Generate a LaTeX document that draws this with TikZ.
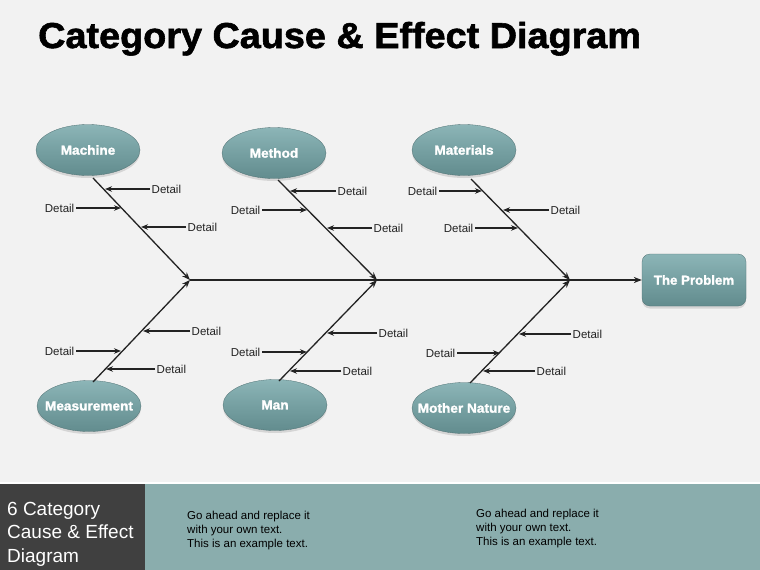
\documentclass[tikz,border=0pt]{standalone}
\usepackage{fontspec}
\setmainfont{Liberation Sans}
\newfontfamily\heavy{Liberation Sans Bold}[FakeBold=1.6]
\usetikzlibrary{arrows.meta,shapes.geometric,shadows}
\definecolor{bgc}{RGB}{242,242,242}
\definecolor{bandc}{RGB}{138,173,173}
\definecolor{darkc}{RGB}{64,64,64}
\definecolor{linec}{RGB}{35,35,35}
\definecolor{tealtop}{RGB}{140,181,183}
\definecolor{tealmid}{RGB}{118,160,162}
\definecolor{tealbot}{RGB}{98,140,142}
\newcommand{\wlab}[1]{\scalebox{1.05}[1]{#1}}
\begin{document}
\begin{tikzpicture}[x=1pt,y=-1pt,
  cat/.style={ellipse, minimum width=104pt, minimum height=51pt, inner xsep=-24pt, inner ysep=0pt,
    top color=tealtop, bottom color=tealbot, middle color=tealmid,
    draw=tealbot!80!black, line width=0.3pt,
    drop shadow={opacity=0.25, shadow xshift=0pt, shadow yshift=-2.5pt},
    text=white, font=\fontsize{13}{15}\selectfont\heavy},
  probbox/.style={rounded corners=8pt, minimum width=104pt, minimum height=52pt, inner sep=0pt,
    top color=tealtop, bottom color=tealbot, middle color=tealmid,
    draw=tealbot!80!black, line width=0.3pt,
    drop shadow={opacity=0.25, shadow xshift=0pt, shadow yshift=-2.5pt},
    text=white, font=\fontsize{13}{15}\selectfont\heavy},
  det/.style={inner sep=1.5pt, text=linec, font=\fontsize{11.5}{13}\selectfont},
  bone/.style={draw=linec, line width=1.3pt, -{Stealth[length=8pt,width=6pt]}},
  darr/.style={draw=linec, line width=1.2pt, -{Stealth[length=7pt,width=5.5pt]}},
  foot/.style={anchor=north west, align=left, text=black, inner sep=0pt,
    font=\fontsize{11.5}{14}\selectfont}
]
% backgrounds
\fill[bgc] (0,0) rectangle (760,482);
\fill[white] (0,482) rectangle (760,484);
\fill[bandc] (0,484) rectangle (760,570);
\fill[darkc] (0,484) rectangle (145,570);
\useasboundingbox (0,0) rectangle (760,570);

% title
\node[anchor=base west, inner sep=0pt] (title) at (38,48)
  {\fontsize{36}{40}\selectfont\heavy\scalebox{1.05}[1]{Category Cause \& Effect Diagram}};

% category ellipses
\node[cat] (mach) at (88,150) {\wlab{Machine}};
\node[cat] (meth) at (274,153) {\wlab{Method}};
\node[cat] (matl) at (464,150) {\wlab{Materials}};
\node[cat] (meas) at (89,406) {\wlab{Measurement}};
\node[cat] (man)  at (275,405) {\wlab{Man}};
\node[cat] (moth) at (464,408) {\wlab{Mother Nature}};

% problem
\node[probbox] (prob) at (694,280) {\scalebox{1.02}[1]{The Problem}};

% junctions and branch starts
\coordinate (j1) at (190,280);
\coordinate (j2) at (377,280);
\coordinate (j3) at (570,280);
\coordinate (b1) at (93,178);
\coordinate (b2) at (278,180);
\coordinate (b3) at (471,179);
\coordinate (b4) at (93,382);
\coordinate (b5) at (279,381);
\coordinate (b6) at (470,383);

% spine
\draw[bone] (j1) -- (prob.west);
% bones
\draw[bone] (b1) -- (j1);
\draw[bone] (b2) -- (j2);
\draw[bone] (b3) -- (j3);
\draw[bone] (b4) -- (j1);
\draw[bone] (b5) -- (j2);
\draw[bone] (b6) -- (j3);

% Machine details
\node[det, anchor=west] (d11) at (150,189) {Detail};
\node[det, anchor=east] (d12) at (76,208) {Detail};
\node[det, anchor=west] (d13) at (186,227) {Detail};
\coordinate (t11) at (105,189);
\coordinate (t12) at (121,208);
\coordinate (t13) at (141,227);
\draw[darr] (d11.west) -- (t11);
\draw[darr] (d12.east) -- (t12);
\draw[darr] (d13.west) -- (t13);

% Method details
\node[det, anchor=west] (d21) at (336,191) {Detail};
\node[det, anchor=east] (d22) at (262,210) {Detail};
\node[det, anchor=west] (d23) at (372,228) {Detail};
\coordinate (t21) at (290,191);
\coordinate (t22) at (307,210);
\coordinate (t23) at (327,228);
\draw[darr] (d21.west) -- (t21);
\draw[darr] (d22.east) -- (t22);
\draw[darr] (d23.west) -- (t23);

% Materials details
\node[det, anchor=east] (d31) at (439,191) {Detail};
\node[det, anchor=west] (d32) at (549,210) {Detail};
\node[det, anchor=east] (d33) at (475,228) {Detail};
\coordinate (t31) at (482,191);
\coordinate (t32) at (503,210);
\coordinate (t33) at (518,228);
\draw[darr] (d31.east) -- (t31);
\draw[darr] (d32.west) -- (t32);
\draw[darr] (d33.east) -- (t33);

% Measurement details
\node[det, anchor=west] (d41) at (190,331) {Detail};
\node[det, anchor=east] (d42) at (76,351) {Detail};
\node[det, anchor=west] (d43) at (155,369) {Detail};
\coordinate (t41) at (143,331);
\coordinate (t42) at (121,351);
\coordinate (t43) at (106,369);
\draw[darr] (d41.west) -- (t41);
\draw[darr] (d42.east) -- (t42);
\draw[darr] (d43.west) -- (t43);

% Man details
\node[det, anchor=west] (d51) at (377,333) {Detail};
\node[det, anchor=east] (d52) at (262,352) {Detail};
\node[det, anchor=west] (d53) at (341,371) {Detail};
\coordinate (t51) at (327,333);
\coordinate (t52) at (307,352);
\coordinate (t53) at (290,371);
\draw[darr] (d51.west) -- (t51);
\draw[darr] (d52.east) -- (t52);
\draw[darr] (d53.west) -- (t53);

% Mother Nature details
\node[det, anchor=west] (d61) at (571,334) {Detail};
\node[det, anchor=east] (d62) at (457,353) {Detail};
\node[det, anchor=west] (d63) at (535,371) {Detail};
\coordinate (t61) at (519,334);
\coordinate (t62) at (500,353);
\coordinate (t63) at (483,371);
\draw[darr] (d61.west) -- (t61);
\draw[darr] (d62.east) -- (t62);
\draw[darr] (d63.west) -- (t63);

% footer
\node[anchor=north west, align=left, inner sep=0pt, text=white,
  font=\fontsize{19}{23.5}\selectfont] (ftitle) at (7,502)
  {6 Category\\Cause \& Effect\\Diagram};
\node[foot] (ft1) at (187,511) {Go ahead and replace it\\with your own text.\\This is an example text.};
\node[foot] (ft2) at (476,509) {Go ahead and replace it\\with your own text.\\This is an example text.};
\end{tikzpicture}
\end{document}
